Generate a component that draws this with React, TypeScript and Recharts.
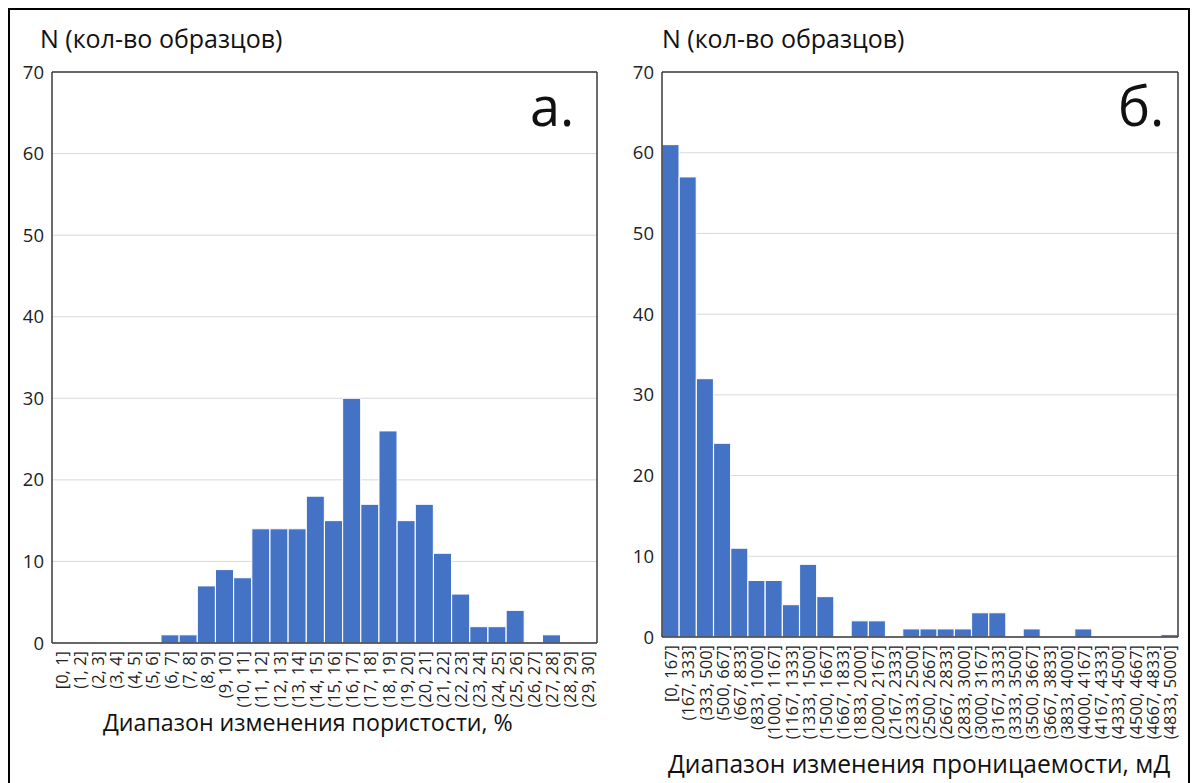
import { BarChart, Bar, XAxis, YAxis, CartesianGrid, ReferenceLine } from 'recharts'

// bins and counts
const porosityBins = [
    '[0, 1]', '(1, 2]', '(2, 3]', '(3, 4]', '(4, 5]', '(5, 6]', '(6, 7]', '(7, 8]', '(8, 9]', '(9, 10]',
    '(10, 11]', '(11, 12]', '(12, 13]', '(13, 14]', '(14, 15]', '(15, 16]', '(16, 17]', '(17, 18]', '(18, 19]', '(19, 20]',
    '(20, 21]', '(21, 22]', '(22, 23]', '(23, 24]', '(24, 25]', '(25, 26]', '(26, 27]', '(27, 28]', '(28, 29]', '(29, 30]',
]
const porosityCounts = [0, 0, 0, 0, 0, 0, 1, 1, 7, 9, 8, 14, 14, 14, 18, 15, 30, 17, 26, 15, 17, 11, 6, 2, 2, 4, 0, 1, 0, 0]

const permBins = [
    '[0, 167]', '(167, 333]', '(333, 500]', '(500, 667]', '(667, 833]', '(833, 1000]', '(1000, 1167]', '(1167, 1333]',
    '(1333, 1500]', '(1500, 1667]', '(1667, 1833]', '(1833, 2000]', '(2000, 2167]', '(2167, 2333]', '(2333, 2500]',
    '(2500, 2667]', '(2667, 2833]', '(2833, 3000]', '(3000, 3167]', '(3167, 3333]', '(3333, 3500]', '(3500, 3667]',
    '(3667, 3833]', '(3833, 4000]', '(4000, 4167]', '(4167, 4333]', '(4333, 4500]', '(4500, 4667]', '(4667, 4833]',
    '(4833, 5000]',
]
const permCounts = [61, 57, 32, 24, 11, 7, 7, 4, 9, 5, 0, 2, 2, 0, 1, 1, 1, 1, 3, 3, 0, 1, 0, 0, 1, 0, 0, 0, 0, 0.3]

const yTicks = [0, 10, 20, 30, 40, 50, 60, 70]

const porosityData = porosityBins.map((bin, i) => ({ bin, n: porosityCounts[i] }))
const permData = permBins.map((bin, i) => ({ bin, n: permCounts[i] }))

const FONT = "'Open Sans', sans-serif"
const BLUE = '#4472C4'
const FRAME = '#3a3a3a'

function BinTick({ x, y, payload }: any) {
    return (
        <text
            x={x}
            y={y}
            transform={`rotate(-90, ${x}, ${y})`}
            textAnchor="end"
            dominantBaseline="central"
            style={{ fill: '#222', fontSize: 16.5, fontFamily: FONT }}
        >
            {payload.value}
        </text>
    )
}

function Histogram({ data, bins, width, margin, yWidth, xHeight }: any) {
    return (
        <BarChart width={width} height={783} data={data} margin={margin} barCategoryGap={0} barGap={0}>
            <CartesianGrid vertical={false} stroke="#d9d9d9" />
            <XAxis
                dataKey="bin"
                interval={0}
                height={xHeight}
                tick={<BinTick />}
                tickLine={false}
                tickSize={0}
                tickMargin={8}
                axisLine={{ stroke: FRAME, strokeWidth: 1.5 }}
            />
            <YAxis
                domain={[0, 70]}
                ticks={yTicks}
                interval={0}
                width={yWidth}
                tickLine={false}
                tickSize={0}
                tickMargin={8}
                axisLine={{ stroke: FRAME, strokeWidth: 1.5 }}
                tick={{ fill: '#222', fontSize: 18.5, fontFamily: FONT }}
            />
            <Bar dataKey="n" fill={BLUE} stroke="#fff" strokeWidth={1} isAnimationActive={false} />
            <ReferenceLine y={70} stroke={FRAME} strokeWidth={1.5} />
            <ReferenceLine x={bins[bins.length - 1]} position="end" stroke={FRAME} strokeWidth={1.5} />
        </BarChart>
    )
}

const text = (extra: any) => ({ position: 'absolute' as const, fontFamily: FONT, color: '#111', whiteSpace: 'nowrap' as const, ...extra })

export default function App() {
    return (
        <div style={{ position: 'relative', width: 1192, height: 783, overflow: 'hidden', background: '#fff' }}>
            <style>{`body{margin:0}`}</style>
            <div style={{ position: 'absolute', left: 0, top: 0 }}>
                <Histogram data={porosityData} bins={porosityBins} width={620} margin={{ top: 72, right: 23, bottom: 80, left: 0 }} yWidth={52} xHeight={60} />
            </div>
            <div style={{ position: 'absolute', left: 600, top: 0 }}>
                <Histogram data={permData} bins={permBins} width={592} margin={{ top: 72, right: 14, bottom: 26, left: 0 }} yWidth={62} xHeight={120} />
            </div>

            <div style={text({ left: 40, top: 21, fontSize: 25 })}>N (кол-во образцов)</div>
            <div style={text({ left: 662, top: 21, fontSize: 25 })}>N (кол-во образцов)</div>
            <div style={text({ left: 530, top: 68, fontSize: 54 })}>а.</div>
            <div style={text({ left: 1118, top: 68, fontSize: 54 })}>б.</div>
            <div style={text({ left: 103, top: 706, fontSize: 23.2 })}>Диапазон изменения пористости, %</div>
            <div style={text({ left: 668, top: 747, fontSize: 24.6 })}>Диапазон изменения проницаемости, мД</div>

            <div style={{ position: 'absolute', left: 8, top: 8, width: 1182, height: 800, border: '2px solid #000', boxSizing: 'border-box', pointerEvents: 'none' }} />
        </div>
    )
}
